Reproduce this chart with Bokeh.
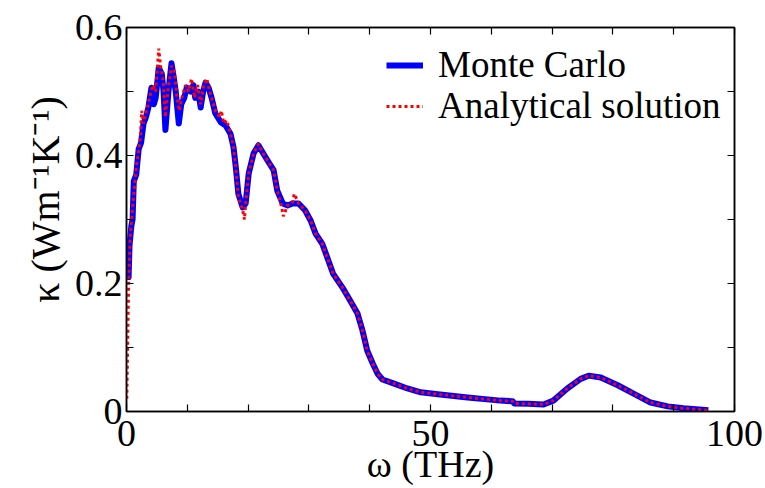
import numpy as np
from bokeh.plotting import figure
from bokeh.models import Range1d, LinearAxis, FixedTicker, Legend, LegendItem
from bokeh.embed import file_html
from bokeh.resources import INLINE

# ---- data ----
mc_freq = [0.2, 0.35, 0.5, 0.8, 1.0, 1.2, 1.6, 2.0, 2.4, 2.8, 3.2, 3.6, 4.1, 4.5, 4.8,
           5.3, 5.8, 6.1, 6.4, 6.9, 7.4, 7.8, 8.1, 8.6, 9.0, 9.5, 9.9, 10.5, 11.0, 11.3,
           11.8, 12.2, 12.6, 13.0, 13.5, 14.0, 14.6, 15.5, 16.3, 17.1, 17.6, 18.0, 18.4,
           19.1, 19.6, 20.1, 20.9, 21.7, 22.5, 23.4, 24.2, 24.8, 25.7, 26.5, 27.3, 28.3,
           29.4, 30.3, 31.1, 32.2, 33.2, 34.0, 35.5, 36.8, 38.0, 38.8, 39.6, 40.5, 41.3,
           42.1, 43.9, 46.2, 48.4, 51.2, 56.1, 61.5, 63.5, 63.8, 66.0, 68.6, 70.2, 72.5,
           74.7, 76.0, 78.0, 80.8, 83.4, 86.2, 89.0, 91.6, 95.7]
mc_kappa = [0.25, 0.21, 0.26, 0.29, 0.30, 0.36, 0.37, 0.41, 0.42, 0.45, 0.46, 0.475, 0.506,
            0.48, 0.49, 0.537, 0.528, 0.50, 0.44, 0.50, 0.544, 0.52, 0.50, 0.45, 0.48, 0.49,
            0.506, 0.50, 0.51, 0.49, 0.50, 0.475, 0.50, 0.514, 0.506, 0.49, 0.466, 0.452,
            0.447, 0.434, 0.413, 0.38, 0.34, 0.319, 0.325, 0.372, 0.403, 0.416, 0.403,
            0.389, 0.377, 0.345, 0.325, 0.322, 0.325, 0.325, 0.314, 0.298, 0.278, 0.262,
            0.236, 0.215, 0.194, 0.173, 0.153, 0.127, 0.095, 0.075, 0.059, 0.050, 0.044,
            0.036, 0.030, 0.027, 0.022, 0.017, 0.016, 0.0125, 0.012, 0.011, 0.017, 0.036,
            0.051, 0.056, 0.053, 0.041, 0.028, 0.014, 0.008, 0.005, 0.002]

an_freq = [0.05, 0.2, 0.35, 0.6, 1.1, 1.6, 2.3, 2.5, 2.8, 3.3, 3.8, 4.3, 4.8, 5.3, 5.6,
           6.0, 6.4, 6.8, 7.4, 7.9, 8.3, 8.7, 9.1, 9.7, 10.2, 10.7, 11.2, 11.7, 12.2, 12.7,
           13.2, 13.7, 14.6, 15.3, 15.6, 16.0, 16.5, 17.1, 17.6, 18.0, 18.4, 19.1, 19.4,
           19.6, 20.1, 20.9, 21.7, 22.5, 23.4, 24.2, 24.8, 25.5, 25.8, 26.5, 27.3, 27.6,
           28.3, 29.4, 30.3, 31.1, 32.2, 33.2, 34.0, 35.5, 36.8, 38.0, 38.8, 39.6, 40.5,
           41.3, 42.1, 43.9, 46.2, 48.4, 51.2, 56.1, 61.5, 63.5, 63.8, 66.0, 68.6, 70.2,
           72.5, 74.7, 76.0, 78.0, 80.8, 83.4, 86.2, 89.0, 91.6, 95.7]
an_kappa = [0.02, 0.11, 0.20, 0.27, 0.33, 0.38, 0.43, 0.47, 0.45, 0.47, 0.49, 0.51, 0.50,
            0.567, 0.54, 0.52, 0.46, 0.50, 0.54, 0.53, 0.49, 0.47, 0.49, 0.51, 0.50, 0.52,
            0.49, 0.51, 0.48, 0.51, 0.52, 0.50, 0.47, 0.46, 0.47, 0.45, 0.455, 0.434, 0.413,
            0.38, 0.335, 0.315, 0.30, 0.325, 0.372, 0.403, 0.418, 0.403, 0.389, 0.377,
            0.345, 0.32, 0.305, 0.322, 0.327, 0.34, 0.325, 0.314, 0.298, 0.278, 0.262,
            0.236, 0.215, 0.194, 0.173, 0.153, 0.127, 0.095, 0.075, 0.059, 0.050, 0.044,
            0.036, 0.030, 0.027, 0.022, 0.017, 0.016, 0.0125, 0.012, 0.011, 0.017, 0.036,
            0.051, 0.056, 0.053, 0.041, 0.028, 0.014, 0.008, 0.005, 0.002]

x_major = [0, 50, 100]
x_minor = [10, 20, 30, 40, 60, 70, 80, 90]
y_major = [0, 0.2, 0.4, 0.6]
y_minor = [0.1, 0.3, 0.5]
y_tick_labels = {0: "0", 0.2: "0.2", 0.4: "0.4", 0.6: "0.6"}
x_title = "ω (THz)"
y_title = "\u00a0\u00a0\u00a0\u00a0κ (Wm⁻¹K⁻¹)"
series_names = ["Monte Carlo", "Analytical solution"]

FONT = "Liberation Serif"

p = figure(width=765, height=488, output_backend="svg", toolbar_location=None,
           x_range=Range1d(0, 100), y_range=Range1d(0, 0.6),
           min_border_left=126, min_border_right=31, min_border_top=27,
           min_border_bottom=77, background_fill_color="white",
           border_fill_color="white")
p.xaxis.visible = False
p.yaxis.visible = False
p.grid.visible = False
p.outline_line_color = "black"
p.outline_line_width = 1.5

def style_axis(ax, ticks, minor, labels=True):
    ax.ticker = FixedTicker(ticks=ticks, minor_ticks=minor)
    ax.axis_line_color = "black"
    ax.axis_line_width = 1.5
    ax.major_tick_in = 7
    ax.major_tick_out = 0
    ax.minor_tick_in = 7
    ax.minor_tick_out = 0
    ax.major_tick_line_width = 1.2
    ax.minor_tick_line_width = 1.2
    ax.major_tick_line_color = "black"
    ax.minor_tick_line_color = "black"
    ax.major_label_text_font = FONT
    ax.major_label_text_color = "black"
    ax.major_label_text_font_size = "38px"
    ax.axis_label_text_font = FONT
    ax.axis_label_text_font_size = "40px"
    ax.axis_label_text_font_style = "normal"
    ax.axis_label_text_color = "black"
    if not labels:
        ax.major_label_overrides = {t: "" for t in ticks}
        ax.major_label_standoff = 0

xb = LinearAxis()
style_axis(xb, x_major, x_minor)
xb.major_label_standoff = 9
xb.axis_label = x_title
xb.axis_label_standoff = -6
xb.axis_label_text_font_size = "38px"
p.add_layout(xb, "below")

yl = LinearAxis()
style_axis(yl, y_major, y_minor)
yl.major_label_overrides = y_tick_labels
yl.major_label_standoff = 4
yl.axis_label = y_title
yl.axis_label_standoff = 4
p.add_layout(yl, "left")

xt = LinearAxis()
style_axis(xt, x_major, x_minor, labels=False)
p.add_layout(xt, "above")

yr = LinearAxis()
style_axis(yr, y_major, y_minor, labels=False)
p.add_layout(yr, "right")

r1 = p.line(mc_freq, mc_kappa, line_color="#0000FF", line_width=6, line_join="round")
r2 = p.line(an_freq, an_kappa, line_color="#FF0000", line_width=3, line_dash="3 3")

def make_legend(label, renderer, loc):
    lg = Legend(items=[LegendItem(label=label, renderers=[renderer])], location=loc)
    lg.label_text_font = FONT
    lg.label_text_font_size = "37px"
    lg.label_text_color = "black"
    lg.glyph_width = 37
    lg.glyph_height = 34
    lg.label_height = 34
    lg.label_standoff = 15
    lg.spacing = 0
    lg.padding = 0
    lg.margin = 0
    lg.border_line_color = None
    lg.background_fill_alpha = 0
    p.add_layout(lg)

make_legend(series_names[0], r1, (260, 325))
make_legend(series_names[1], r2, (260, 284))

open("out.html", "w").write(file_html(p, INLINE))
